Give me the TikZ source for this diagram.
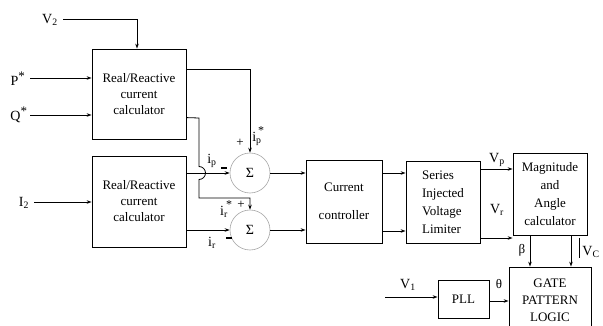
\documentclass[tikz,border=0pt]{standalone}
\usepackage{fontspec}
\setmainfont{Liberation Serif}
\usetikzlibrary{arrows.meta,calc}
\newcommand{\idx}[2]{#1\textsubscript{#2}}
\newcommand{\isup}[2]{#1\textsuperscript{\fontsize{13}{13}\selectfont *}}
\newcommand{\ipstar}[2]{#1\rlap{\raisebox{1.0ex}{\fontsize{12}{12}\selectfont\,*}}\textsubscript{#2}}
\newcommand{\minusmark}{\rule{6pt}{1.1pt}}
\begin{document}
\begin{tikzpicture}[x=1pt,y=-1pt,
  every node/.style={font=\fontsize{13}{16}\selectfont, inner sep=0pt},
  blk/.style={draw, line width=0.8pt, align=center},
  sumnode/.style={draw=black!35, line width=0.6pt, circle, minimum size=40pt, font=\fontsize{14}{14}\selectfont},
  conn/.style={line width=0.8pt, -{Stealth[length=5pt,width=3.5pt]}},
  wire/.style={line width=0.8pt}]
\useasboundingbox (0,0) rectangle (603,326);
% blocks
\node[blk, minimum width=94pt, minimum height=90pt] (box1) at (139,94) {Real/Reactive\\current\\calculator};
\node[blk, minimum width=94pt, minimum height=91pt] (box2) at (139,201.5) {Real/Reactive\\current\\calculator};
\node[sumnode] (s1) at (250,173) {Σ};
\node[sumnode] (s2) at (250,230) {Σ};
\node[blk, minimum width=76pt, minimum height=83pt] (cc) at (344,201.5) {Current\\[12pt]controller};
\node[blk, minimum width=74pt, minimum height=82pt, align=left, font=\fontsize{13}{18}\selectfont] (sv) at (443,202) {Series\\Injected\\Voltage\\Limiter};
\node[blk, minimum width=74pt, minimum height=82pt, font=\fontsize{13}{18}\selectfont] (mag) at (550,194) {Magnitude\\and\\Angle\\calculator};
\node[blk, minimum width=82pt, minimum height=66pt, font=\fontsize{13}{17}\selectfont] (gate) at (550,300) {GATE\\PATTERN\\LOGIC};
\node[blk, minimum width=51pt, minimum height=38pt] (pll) at (463.5,299) {PLL};
% free ends
\coordinate (v2s) at (63,19);
\coordinate (ps) at (30,78);
\coordinate (qs) at (30,115);
\coordinate (is) at (34,202);
\coordinate (v1s) at (385,297);
\coordinate (hopc) at (199,173);
% inputs
\draw[conn] (v2s) -| ([xshift=-2pt]box1.north);
\draw[conn] (ps) -- (ps -| box1.west);
\draw[conn] (qs) -- (qs -| box1.west);
\draw[conn] (is) -- (is -| box2.west);
% box1 outputs
\draw[conn] ($(box1.north east)+(0,21)$) -| (s1.north);
\draw[conn] ($(box1.north east)+(0,69)$) -- ($(hopc)+(0,-55)$) -- ($(hopc)+(0,-6.5)$)
  arc[start angle=90, end angle=-90, radius=6.5pt] -- ($(hopc)+(0,25)$) -| (s2.north);
% box2 outputs
\draw[conn] (box2.east |- s1) -- (s1.west);
\draw[conn] (box2.east |- s2) -- (s2.west);
% sums to current controller
\draw[conn] (s1.east) -- (cc.west |- s1);
\draw[conn] (s2.east) -- (cc.west |- s2);
% cc to limiter
\draw[conn] (cc.east |- s1) -- (sv.west |- s1);
\draw[conn] ([yshift=-1pt]cc.east |- s2) -- ([yshift=-1pt]sv.west |- s2);
% limiter to magnitude
\draw[conn] ([yshift=4pt]sv.east |- s1) -- ([yshift=4pt]mag.west |- s1);
\draw[conn] ([yshift=-8pt]sv.east |- s2) -- ([yshift=-8pt]mag.west |- s2);
% magnitude to gate
\draw[conn] ([xshift=-20pt]mag.south) -- ([xshift=-20pt]gate.north);
\draw[conn] ([xshift=21pt]mag.south) -- ([xshift=21pt]gate.north);
\coordinate (vcb1) at (579,238);
\coordinate (vcb2) at (579,258);
\draw[wire] (vcb1) -- (vcb2);
% PLL
\draw[conn] (v1s) -- (v1s -| pll.west);
\draw[conn] ([yshift=-2pt]pll.east) -- ([yshift=-2pt]pll.east -| gate.west);
% labels
\node (lv2) at (50,20) {\fontsize{14}{14}\selectfont\idx{V}{2}};
\node (lp) at (18,79) {\fontsize{14}{14}\selectfont\isup{P}{*}};
\node (lq) at (19,115) {\fontsize{14}{14}\selectfont\isup{Q}{*}};
\node (li2) at (24,203) {\fontsize{14}{14}\selectfont\idx{I}{2}};
\node (lip) at (212,161) {\fontsize{14}{14}\selectfont\idx{i}{p}};
\node (lm1) at (224,168) {\minusmark};
\node (lpl1) at (240,143) {+};
\node (lips) at (257,136) {\fontsize{14}{14}\selectfont\ipstar{i}{p}};
\node (lirs) at (224,209) {\fontsize{14}{14}\selectfont\ipstar{i}{r}};
\node (lpl2) at (241,205) {+};
\node (lir) at (212,243) {\fontsize{14}{14}\selectfont\idx{i}{r}};
\node (lm2) at (229,238) {\minusmark};
\node (lvp) at (497,160) {\fontsize{14}{14}\selectfont\idx{V}{p}};
\node (lvr) at (497,210) {\fontsize{14}{14}\selectfont\idx{V}{r}};
\node (lb) at (522,250) {β};
\node (lvc) at (591,252) {\fontsize{14}{14}\selectfont\idx{V}{C}};
\node (lv1) at (408,285) {\fontsize{14}{14}\selectfont\idx{V}{1}};
\node (lth) at (499,284) {θ};
\end{tikzpicture}
\end{document}
